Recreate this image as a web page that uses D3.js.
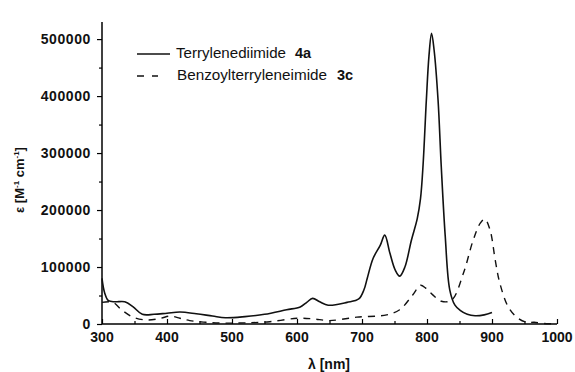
<!DOCTYPE html>
<html>
<head>
<meta charset="utf-8">
<script src="https://cdn.jsdelivr.net/npm/d3@7"></script>
<style>
  body { margin: 0; background: #fff; }
  svg text { font-family: "Liberation Sans", Arial, sans-serif; fill: #111; }
</style>
</head>
<body>
<div id="chart"></div>
<script>
// Terrylenediimide 4a (solid)
const lambda4a = [300, 304, 310, 320, 335, 348, 362, 380, 400, 420, 445, 470, 490, 520, 550, 584, 605, 615, 624, 635, 648, 677, 695, 703, 708, 717, 728, 735, 743, 751, 758, 766, 776, 785, 790, 794, 799, 803, 807, 811, 817, 822, 828, 835, 843, 851, 862, 874, 888, 900];
const eps4a = [80000, 55000, 41000, 39000, 39000, 30000, 17000, 17000, 19000, 21000, 18000, 14000, 11000, 13000, 17000, 25000, 30000, 38000, 45000, 39000, 33000, 38000, 44000, 60000, 80000, 115000, 138000, 156000, 124000, 95000, 84000, 100000, 147000, 185000, 220000, 280000, 393000, 470000, 510000, 480000, 393000, 275000, 155000, 60000, 33000, 24000, 17000, 14500, 16000, 20000];

// Benzoylterryleneimide 3c (dashed)
const lambda3c = [300, 317, 330, 348, 370, 390, 405, 420, 435, 460, 490, 520, 558, 600, 625, 650, 692, 738, 758, 778, 790, 798, 808, 822, 838, 856, 871, 882, 889, 897, 905, 912, 925, 938, 953, 965, 980, 1000];
const eps3c = [38000, 38000, 25000, 12000, 7000, 10000, 14000, 10000, 6000, 3000, 1500, 2000, 4000, 10000, 9000, 6000, 12000, 16000, 25000, 51000, 68000, 63000, 52000, 40000, 42000, 89000, 147000, 177000, 184000, 165000, 112000, 72000, 30000, 12000, 3000, 3000, 1000, 0];

const xTicks = [300, 400, 500, 600, 700, 800, 900, 1000];
const yTicks = [0, 100000, 200000, 300000, 400000, 500000];

const width = 575, height = 372;

const svg = d3.select('#chart')
    .append('svg')
    .attr('width', width)
    .attr('height', height);

const x = d3.scaleLinear().domain([300, 1000]).range([102, 557]);
const y = d3.scaleLinear().domain([0, 530000]).range([324, 22]);

// x axis: ticks point inward
const xAxis = svg.append('g')
    .attr('transform', `translate(0,${y(0)})`)
    .call(d3.axisTop(x).tickValues(d3.range(300, 1001, 50)).tickSize(4).tickFormat(''));
xAxis.selectAll('.tick line').attr('y2', d => d % 100 === 0 ? -5 : -3);
xAxis.select('.domain').attr('d', `M${x(300)},0H${x(1000)}`).attr('stroke-width', 1.5);
xAxis.selectAll('line').attr('stroke-width', 1.2);

svg.append('g').selectAll('text')
    .data(xTicks)
    .join('text')
    .attr('x', d => x(d))
    .attr('y', 342)
    .attr('text-anchor', 'middle')
    .attr('font-size', 14)
    .attr('font-weight', 'bold')
    .text(d => d);

// y axis: ticks point outward
const yAxis = svg.append('g')
    .attr('transform', `translate(${x(300)},0)`)
    .call(d3.axisLeft(y).tickValues(d3.range(0, 500001, 50000)).tickSize(5).tickFormat(''));
yAxis.selectAll('.tick line').attr('x2', d => d % 100000 === 0 ? -5 : -3);
yAxis.select('.domain').attr('d', `M0,${y(0)}V${y(530000)}`).attr('stroke-width', 1.5);
yAxis.selectAll('line').attr('stroke-width', 1.2);

svg.append('g').selectAll('text')
    .data(yTicks)
    .join('text')
    .attr('x', 91)
    .attr('y', d => y(d) + 5)
    .attr('text-anchor', 'end')
    .attr('font-size', 14)
    .attr('font-weight', 'bold')
    .attr('letter-spacing', 0.6)
    .text(d => d);

// axis titles
svg.append('text')
    .attr('x', 329)
    .attr('y', 369)
    .attr('text-anchor', 'middle')
    .attr('font-size', 14)
    .attr('font-weight', 'bold')
    .text('λ [nm]');

const yTitle = svg.append('text')
    .attr('transform', 'translate(24,180) rotate(-90)')
    .attr('text-anchor', 'middle')
    .attr('font-size', 13)
    .attr('font-weight', 'bold');
yTitle.append('tspan').text('ε [M');
yTitle.append('tspan').attr('font-size', 8).attr('dy', -5).text('-1');
yTitle.append('tspan').attr('dy', 5).text(' cm');
yTitle.append('tspan').attr('font-size', 8).attr('dy', -5).text('-1');
yTitle.append('tspan').attr('dy', 5).text(']');

// curves
const line = d3.line()
    .x(d => x(d[0]))
    .y(d => y(d[1]))
    .curve(d3.curveCatmullRom.alpha(0.5));

svg.append('path')
    .datum(d3.zip(lambda4a, eps4a))
    .attr('d', line)
    .attr('fill', 'none')
    .attr('stroke', '#111')
    .attr('stroke-width', 1.6);

svg.append('path')
    .datum(d3.zip(lambda3c, eps3c))
    .attr('d', line)
    .attr('fill', 'none')
    .attr('stroke', '#111')
    .attr('stroke-width', 1.4)
    .attr('stroke-dasharray', '7,6');

// legend
const legend = svg.append('g');
legend.append('line')
    .attr('x1', 137).attr('x2', 170).attr('y1', 54).attr('y2', 54)
    .attr('stroke', '#111').attr('stroke-width', 1.4);
legend.append('line')
    .attr('x1', 137).attr('x2', 158).attr('y1', 76).attr('y2', 76)
    .attr('stroke', '#111').attr('stroke-width', 1.4)
    .attr('stroke-dasharray', '7,8');

legend.append('text').attr('x', 176).attr('y', 58).attr('font-size', 14.5)
    .attr('textLength', 110).attr('lengthAdjust', 'spacingAndGlyphs')
    .text('Terrylenediimide');
legend.append('text').attr('x', 295).attr('y', 58).attr('font-size', 14.5)
    .attr('font-weight', 'bold').text('4a');

legend.append('text').attr('x', 177).attr('y', 80).attr('font-size', 14.5)
    .attr('textLength', 150).attr('lengthAdjust', 'spacingAndGlyphs')
    .text('Benzoylterryleneimide');
legend.append('text').attr('x', 337).attr('y', 80).attr('font-size', 14.5)
    .attr('font-weight', 'bold').text('3c');
</script>
</body>
</html>
